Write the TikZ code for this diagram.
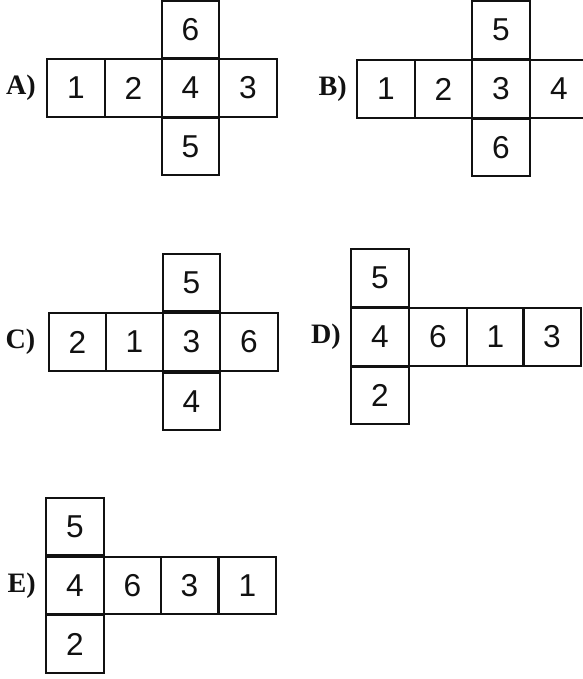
\documentclass[tikz,border=0pt]{standalone}
\usepackage{fontspec}
\setmainfont{Liberation Serif}
\newfontfamily\digitfont{Liberation Sans}
\usepackage{tikz}
\usepackage{xcolor}
\usetikzlibrary{positioning}
\definecolor{ink}{HTML}{111111}
\tikzset{
  face/.style={draw=ink,line width=0.07cm,minimum size=1.725cm,
               inner sep=0pt,text=ink,font=\digitfont\fontsize{27}{27}\selectfont},
  optlabel/.style={inner sep=0pt,text=ink,font=\fontsize{24}{24}\selectfont\bfseries}
}

\begin{document}
\begin{tikzpicture}[x=0.03cm,y=-0.03cm]
  \useasboundingbox (0,0) rectangle (582,679);
  % net A: row 1 2 4 3, 6 above and 5 below the 4
  \foreach \n/\cx/\cy/\d in {1/76/88/1,2/133.5/88/2,3/190.5/88/4,4/248/88/3,
                             5/190.5/29.5/6,6/190.5/146.5/5}
    \node[face] (A\n) at (\cx,\cy) {\d};
  \node[optlabel,left=0.3cm of A1] (labA) {A)};
  % net B: row 1 2 3 4, 5 above and 6 below the 3
  \foreach \n/\cx/\cy/\d in {1/386/89/1,2/443.5/89/2,3/501/89/3,4/559/89/4,
                             5/501/30/5,6/501/147.5/6}
    \node[face] (B\n) at (\cx,\cy) {\d};
  \node[optlabel,left=0.27cm of B1] (labB) {B)};
  % net C: row 2 1 3 6, 5 above and 4 below the 3
  \foreach \n/\cx/\cy/\d in {1/77.5/342/2,2/134.5/342/1,3/191.5/342/3,4/249/342/6,
                             5/191.5/282.5/5,6/191.5/401.5/4}
    \node[face] (C\n) at (\cx,\cy) {\d};
  \node[optlabel,left=0.36cm of C1] (labC) {C)};
  % net D: column 5 4 2, row 4 6 1 3
  \foreach \n/\cx/\cy/\d in {1/380/337/4,2/438/337/6,3/495.5/337/1,4/552/337/3,
                             5/380/278/5,6/380/395.5/2}
    \node[face] (D\n) at (\cx,\cy) {\d};
  \node[optlabel,left=0.27cm of D1] (labD) {D)};
  % net E: column 5 4 2, row 4 6 3 1
  \foreach \n/\cx/\cy/\d in {1/75/585.5/4,2/132.5/585.5/6,3/189.5/585.5/3,4/247.5/585.5/1,
                             5/75/526.5/5,6/75/644/2}
    \node[face] (E\n) at (\cx,\cy) {\d};
  \node[optlabel,left=0.27cm of E1] (labE) {E)};
\end{tikzpicture}
\end{document}
